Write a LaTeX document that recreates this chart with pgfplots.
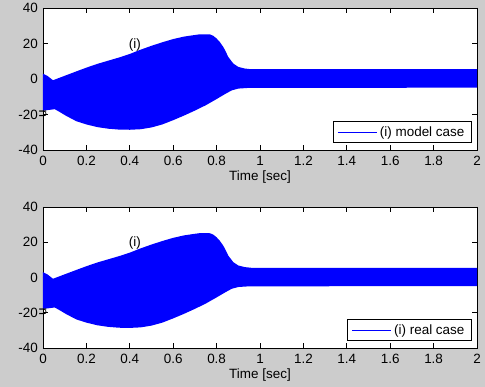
\documentclass[border=0pt]{standalone}
\usepackage{fontspec}
\setmainfont{Liberation Sans}
\usepackage{pgfplots}
\usepackage{pgfplotstable}
\pgfplotsset{compat=1.18}
\definecolor{figgray}{RGB}{204,204,204}
\definecolor{mblue}{RGB}{0,0,255}
\newcommand{\ff}{\fontsize{13.5}{15}\selectfont}
\pgfplotsset{
  myax/.style={
    scale only axis, width=434bp, anchor=south west,
    xmin=0, xmax=2, ymin=-40, ymax=40,
    xtick={0,0.2,0.4,0.6,0.8,1,1.2,1.4,1.6,1.8,2},
    xticklabels={0,0.2,0.4,0.6,0.8,1,1.2,1.4,1.6,1.8,2},
    ytick={-40,-20,0,20,40},
    tick align=inside, major tick length=5bp,
    xtick pos=both, ytick pos=both,
    axis line style={line width=0.8bp},
    tick style={line width=0.8bp, black},
    axis background/.style={fill=white},
    ticklabel style={font=\ff},
    /pgf/number format/assume math mode=true,
    xticklabel style={anchor=center, yshift=-10.5bp, inner sep=0pt},
    yticklabel style={anchor=east, xshift=-5bp, inner sep=0pt},
    xlabel={Time [sec]}, ylabel={u},
    label style={font=\ff},
    xlabel style={at={(axis description cs:0.5,0)}, anchor=center, yshift=-27bp},
    ylabel style={at={(axis description cs:0,0.5)}, anchor=center, xshift=-34.5bp},
    legend style={at={(axis description cs:1,0)}, anchor=south east,
      xshift=-5.7bp, yshift=6.7bp, draw=black, line width=0.8bp, fill=white,
      font=\ff, inner xsep=4bp, inner ysep=2bp,
      nodes={inner xsep=2.5bp, inner ysep=3bp}},
    legend image code/.code={\draw[#1] (0bp,0bp) -- (39bp,0bp);},
  }
}
\pgfplotstableread{
x y
0 3.0
0.02 1.8
0.046 -0.7
0.1 1.8
0.154 4.3
0.2 6.4
0.25 8.5
0.3 10.3
0.35 12.1
0.4 14.1
0.447 16.4
0.5 18.7
0.55 20.7
0.6 22.5
0.65 23.9
0.7 24.8
0.724 25.2
0.77 25.1
0.785 24.3
0.8 22.8
0.815 20.8
0.831 18.0
0.839 16.2
0.854 12.4
0.877 8.7
0.9 6.8
0.93 5.9
0.96 5.5
2.0 5.5
2.0 -4.9
0.95 -5.0
0.9 -5.4
0.87 -6.4
0.84 -8.4
0.8 -11.3
0.75 -14.8
0.7 -17.8
0.65 -20.6
0.6 -23.2
0.55 -25.6
0.5 -27.3
0.45 -28.3
0.4 -28.6
0.35 -28.5
0.3 -28.0
0.25 -27.1
0.2 -25.6
0.154 -23.8
0.107 -20.8
0.08 -18.8
0.054 -17.0
0.03 -17.4
0 -17.8
}\envelope
\begin{document}
\begin{tikzpicture}
\path[use as bounding box, fill=figgray] (0,0) rectangle (485bp,387bp);
\begin{axis}[myax, at={(43bp,237bp)}, height=142bp]
\addplot[fill=mblue, draw=none, forget plot] table[x=x,y=y] {\envelope};
\addlegendimage{mblue, line width=1bp}
\addlegendentry{(i) model case}
\node[font=\ff] at (axis cs:0.423,19.3) {(i)};
\end{axis}
\begin{axis}[myax, at={(43bp,39bp)}, height=141bp]
\addplot[fill=mblue, draw=none, forget plot] table[x=x,y=y] {\envelope};
\addlegendimage{mblue, line width=1bp}
\addlegendentry{(i) real case}
\node[font=\ff] at (axis cs:0.423,19.3) {(i)};
\end{axis}
\end{tikzpicture}
\end{document}
